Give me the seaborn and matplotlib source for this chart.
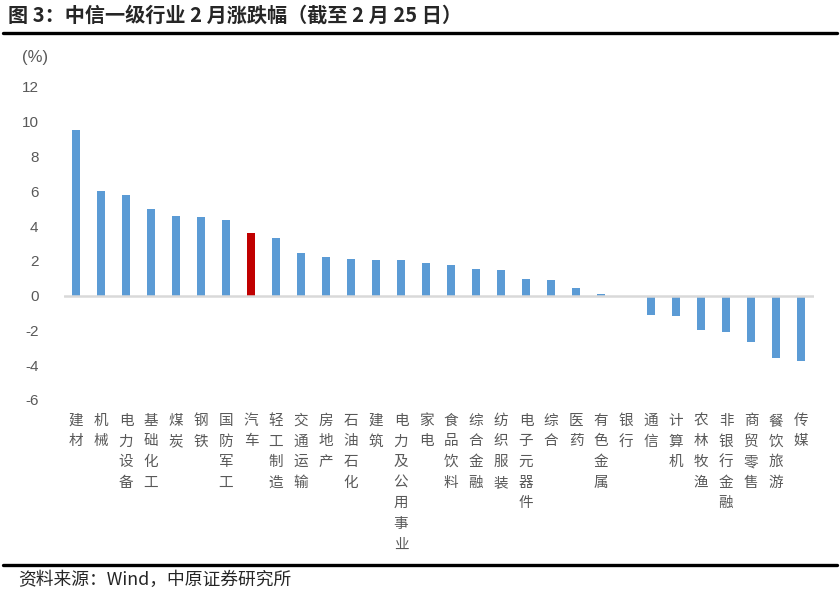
import numpy as np
import pandas as pd
import seaborn as sns
import matplotlib.pyplot as plt
from matplotlib.lines import Line2D


# --- 中信一级行业 2 月涨跌幅 ---

industries = ['建材', '机械', '电力设备', '基础化工', '煤炭', '钢铁', '国防军工', '汽车',
              '轻工制造', '交通运输', '房地产', '石油石化', '建筑', '电力及公用事业', '家电',
              '食品饮料', '综合金融', '纺织服装', '电子元器件', '综合', '医药', '有色金属',
              '银行', '通信', '计算机', '农林牧渔', '非银行金融', '商贸零售', '餐饮旅游', '传媒']
change = [9.52, 6.02, 5.76, 5.00, 4.57, 4.51, 4.36, 3.60,
          3.32, 2.45, 2.21, 2.10, 2.04, 2.04, 1.88,
          1.77, 1.53, 1.49, 0.96, 0.90, 0.44, 0.10,
          0.00, -1.10, -1.16, -2.00, -2.07, -2.65, -3.60, -3.73]
highlight = '汽车'
yticks = [-6, -4, -2, 0, 2, 4, 6, 8, 10, 12]

blue = '#5B9BD5'
red = '#C00000'
grey = '#595959'

sns.set_style('white')
plt.rcParams['font.family'] = ['Noto Sans CJK SC', 'DejaVu Sans']

df = pd.DataFrame({'industry': industries, 'change': change})
colors = {c: (red if c == highlight else blue) for c in industries}

fig = plt.figure(figsize=(8.4, 5.97), dpi=100)
ax = fig.add_axes([0.0756, 0.33, 0.8929, 0.5243])

sns.barplot(data=df, x='industry', y='change', hue='industry', palette=colors,
            legend=False, width=0.34, saturation=1, linewidth=0, ax=ax)

ax.axhline(0, color='#D9D9D9', lw=1.8, zorder=3)
ax.set_ylim(-6, 12)
ax.set_xlim(-0.5, len(industries) - 0.5)
ax.set_yticks(yticks)
ax.set_yticklabels([str(v) for v in yticks], family='Liberation Sans',
                   fontsize=11, color=grey)
ax.set_xticks(range(len(industries)))
ax.set_xticklabels(['\n'.join(name) for name in industries], fontsize=10.5,
                   color=grey, linespacing=1.6, va='top')
ax.tick_params(axis='both', length=0)
ax.tick_params(axis='x', pad=10)
ax.tick_params(axis='y', pad=18)
ax.set(xlabel='', ylabel='')
sns.despine(ax=ax, left=True, bottom=True)

fig.text(0.026, 0.903, '(%)', fontsize=12, color=grey, family='Liberation Sans',
         va='center')

# title and source
fig.text(0.01, 0.975, '图 3：中信一级行业 2 月涨跌幅（截至 2 月 25 日）',
         fontsize=14.5, fontweight='bold', va='center')
fig.add_artist(Line2D([0.004, 0.996], [0.9447, 0.9447], color='black', lw=2.4))
fig.add_artist(Line2D([0.004, 0.996], [0.0536, 0.0536], color='black', lw=2.4))
fig.text(0.021, 0.028, '资料来源：Wind，中原证券研究所', fontsize=12.8, va='center')

fig.savefig('out.png', dpi=100)
